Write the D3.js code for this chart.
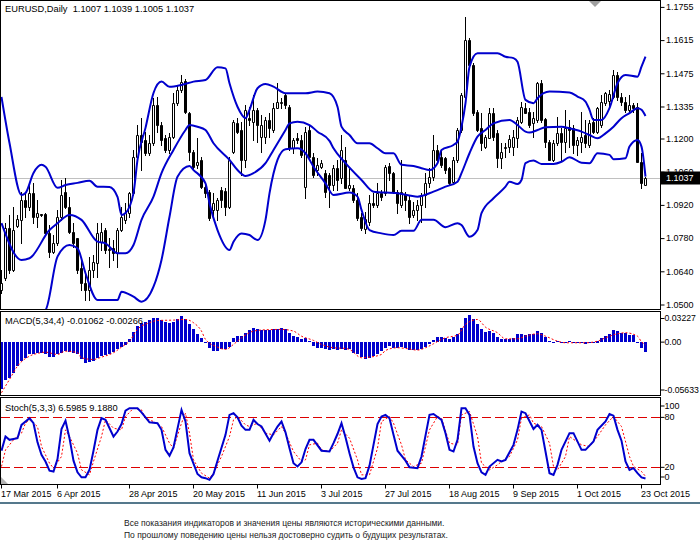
<!DOCTYPE html>
<html>
<head>
<meta charset="utf-8">
<script src="https://cdn.jsdelivr.net/npm/d3@7"></script>
<style>
  html, body { margin: 0; padding: 0; background: #fff; }
  svg { display: block; }
</style>
</head>
<body>
<div id="container"></div>
<script>
// ---------- data (EURUSD daily) ----------
const open = [
  1.0563,1.0613,1.0824,1.0648,1.0833,1.0859,1.0943,1.0915,1.0971,1.0870,
  1.0882,1.0884,1.0802,1.0725,1.0760,1.0872,1.0978,1.0915,1.0809,1.0781,
  1.0655,1.0594,1.0563,1.0648,1.0676,1.0767,1.0816,1.0732,1.0739,1.0718,
  1.0816,1.0859,1.0887,1.0971,1.1126,1.1217,1.1196,1.1140,1.1182,1.1344,
  1.1259,1.1203,1.1154,1.1210,1.1351,1.1407,1.1446,1.1309,1.1147,1.1090,
  1.1112,1.0999,1.0978,1.0901,1.0901,1.0985,1.0982,1.0915,1.1147,1.1266,
  1.1238,1.1112,1.1287,1.1273,1.1322,1.1210,1.1210,1.1280,1.1238,1.1330,
  1.1351,1.1386,1.1337,1.1161,1.1203,1.1196,1.0999,1.1238,1.1126,1.1069,
  1.1083,1.1055,1.1048,1.1006,1.1077,1.1034,1.1112,1.0992,1.0992,1.0943,
  1.0872,1.0822,1.0851,1.0932,1.0922,1.0974,1.0971,1.1086,1.1055,1.0978,
  1.0922,1.0968,1.0943,1.0880,1.0901,1.0922,1.0964,1.1013,1.1041,1.1154,
  1.1126,1.1119,1.1077,1.1020,1.1112,1.1238,1.1379,1.1618,1.1512,1.1315,
  1.1245,1.1168,1.1203,1.1309,1.1224,1.1119,1.1161,1.1168,1.1168,1.1203,
  1.1273,1.1330,1.1315,1.1266,1.1280,1.1435,1.1283,1.1189,1.1112,1.1182,
  1.1227,1.1189,1.1250,1.1245,1.1175,1.1189,1.1217,1.1175,1.1273,1.1231,
  1.1259,1.1351,1.1360,1.1379,1.1470,1.1379,1.1358,1.1322,1.1344,1.1337,
  1.1104,1.1007
];
const high = [
  1.0648,1.0845,1.0880,1.0915,1.0880,1.0978,1.0978,1.1013,1.1013,1.0943,
  1.0885,1.0887,1.0837,1.0795,1.0901,1.1027,1.1034,1.0957,1.0845,1.0781,
  1.0690,1.0634,1.0704,1.0711,1.0845,1.0845,1.0824,1.0781,1.0774,1.0824,
  1.0915,1.0929,1.0978,1.1154,1.1259,1.1287,1.1231,1.1217,1.1372,1.1379,
  1.1273,1.1217,1.1224,1.1393,1.1428,1.1470,1.1452,1.1315,1.1154,1.1203,
  1.1126,1.1013,1.0985,1.0971,1.0950,1.0999,1.0992,1.1126,1.1280,1.1287,
  1.1273,1.1344,1.1337,1.1386,1.1329,1.1301,1.1294,1.1309,1.1351,1.1435,
  1.1373,1.1393,1.1344,1.1203,1.1224,1.1217,1.1252,1.1259,1.1140,1.1120,
  1.1112,1.1069,1.1055,1.1090,1.1112,1.1217,1.1168,1.1083,1.1006,1.0971,
  1.0887,1.0894,1.0964,1.0971,1.1013,1.0985,1.1090,1.1098,1.1062,1.0985,
  1.1112,1.0978,1.0964,1.0936,1.0943,1.0971,1.1055,1.1077,1.1217,1.1175,
  1.1154,1.1126,1.1083,1.1126,1.1245,1.1393,1.1716,1.1625,1.1519,1.1322,
  1.1309,1.1217,1.1330,1.1330,1.1238,1.1182,1.1182,1.1217,1.1238,1.1294,
  1.1358,1.1351,1.1330,1.1315,1.1442,1.1449,1.1287,1.1196,1.1196,1.1291,
  1.1245,1.1322,1.1280,1.1259,1.1210,1.1315,1.1280,1.1280,1.1287,1.1337,
  1.1386,1.1400,1.1407,1.1491,1.1484,1.1393,1.1379,1.1386,1.1351,1.1351,
  1.1140,1.1039
];
const low = [
  1.0551,1.0605,1.0634,1.0645,1.0830,1.0760,1.0872,1.0901,1.0845,1.0830,
  1.0876,1.0795,1.0704,1.0718,1.0753,1.0859,1.0908,1.0802,1.0746,1.0634,
  1.0563,1.0521,1.0521,1.0619,1.0619,1.0732,1.0718,1.0662,1.0690,1.0662,
  1.0810,1.0845,1.0872,1.0965,1.1112,1.1069,1.1133,1.1133,1.1175,1.1231,
  1.1175,1.1147,1.1140,1.1203,1.1344,1.1400,1.1309,1.1112,1.1077,1.1077,
  1.0992,1.0957,1.0859,1.0872,1.0859,1.0915,1.0880,1.0908,1.1140,1.1224,
  1.1048,1.1083,1.1259,1.1196,1.1189,1.1147,1.1182,1.1210,1.1231,1.1330,
  1.1331,1.1330,1.1154,1.1140,1.1182,1.1126,1.0950,1.1112,1.1041,1.1048,
  1.1077,1.0957,1.0915,1.0985,1.0985,1.1013,1.0992,1.0985,1.0936,1.0859,
  1.0816,1.0802,1.0837,1.0915,1.0915,1.0943,1.0964,1.1027,1.0971,1.0887,
  1.0915,1.0901,1.0845,1.0872,1.0859,1.0851,1.0915,1.0999,1.1027,1.1098,
  1.1083,1.1055,1.1006,1.1013,1.1104,1.1231,1.1372,1.1505,1.1301,1.1235,
  1.1154,1.1161,1.1203,1.1196,1.1083,1.1077,1.1126,1.1147,1.1133,1.1168,
  1.1266,1.1309,1.1252,1.1210,1.1273,1.1273,1.1168,1.1112,1.1109,1.1175,
  1.1112,1.1147,1.1168,1.1140,1.1133,1.1147,1.1168,1.1168,1.1224,1.1224,
  1.1252,1.1344,1.1337,1.1372,1.1365,1.1344,1.1315,1.1315,1.1315,1.1104,
  1.0992,1.1005
];
const close = [
  1.0593,1.0824,1.0648,1.0816,1.0861,1.0943,1.0915,1.0971,1.0872,1.0887,
  1.0880,1.0802,1.0725,1.0760,1.0872,1.0964,1.0915,1.0809,1.0760,1.0648,
  1.0594,1.0563,1.0648,1.0683,1.0802,1.0809,1.0732,1.0735,1.0718,1.0816,
  1.0872,1.0887,1.0971,1.1126,1.1217,1.1189,1.1140,1.1182,1.1344,1.1259,
  1.1196,1.1154,1.1210,1.1351,1.1407,1.1442,1.1315,1.1147,1.1083,1.1104,
  1.0999,1.0971,1.0866,1.0929,1.0943,1.0943,1.0915,1.1112,1.1273,1.1231,
  1.1112,1.1322,1.1280,1.1322,1.1259,1.1259,1.1280,1.1245,1.1330,1.1358,
  1.1358,1.1344,1.1161,1.1196,1.1196,1.1133,1.1231,1.1126,1.1048,1.1090,
  1.1098,1.0978,1.1006,1.1077,1.1027,1.1154,1.0992,1.1006,1.0943,1.0866,
  1.0824,1.0864,1.0932,1.0922,1.0971,1.0957,1.1083,1.1055,1.0978,1.0929,
  1.0978,1.0943,1.0872,1.0901,1.0922,1.0964,1.1013,1.1041,1.1154,1.1112,
  1.1090,1.1069,1.1013,1.1112,1.1238,1.1386,1.1618,1.1512,1.1309,1.1238,
  1.1182,1.1210,1.1309,1.1210,1.1119,1.1147,1.1168,1.1199,1.1210,1.1280,
  1.1337,1.1311,1.1259,1.1287,1.1435,1.1280,1.1189,1.1112,1.1182,1.1227,
  1.1189,1.1245,1.1238,1.1175,1.1196,1.1210,1.1182,1.1266,1.1231,1.1330,
  1.1358,1.1393,1.1390,1.1470,1.1379,1.1358,1.1322,1.1344,1.1330,1.1104,
  1.1013,1.1037
];

// Bollinger bands, [bar, price] read at the turning points
const bbUpper = [
  [0,1.1377],[2,1.1183],[5,1.0964],[6,1.0972],[8,1.1057],[10,1.1091],[11,1.1083],[14,1.0994],
  [16,1.1006],[19,1.1015],[22,1.1024],[24,1.0999],[27,1.0998],[29,1.0956],[30,1.0880],[31,1.0888],
  [33,1.0972],[34,1.1112],[36,1.1247],[38,1.1394],[40,1.1442],[42,1.1420],[45,1.1428],[48,1.1442],
  [51,1.1449],[54,1.1503],[56,1.1498],[57,1.1435],[59,1.1336],[61,1.1288],[62,1.1323],[64,1.1414],
  [66,1.1432],[68,1.1421],[71,1.1393],[76,1.1393],[79,1.1400],[82,1.1393],[84,1.1336],[85,1.1252],
  [87,1.1217],[89,1.1182],[92,1.1182],[94,1.1161],[96,1.1140],[98,1.1140],[100,1.1091],[103,1.1086],
  [105,1.1077],[107,1.1069],[109,1.1098],[110,1.1154],[113,1.1175],[114,1.1189],[115,1.1252],[116,1.1351],
  [117,1.1505],[119,1.1562],[122,1.1562],[124,1.1562],[126,1.1547],[128,1.1541],[129,1.1526],[131,1.1365],
  [133,1.1351],[134,1.1372],[137,1.1400],[142,1.1396],[144,1.1379],[146,1.1358],[147,1.1323],[148,1.1280],
  [150,1.1280],[152,1.1330],[154,1.1435],[156,1.1470],[159,1.1463],[160,1.1505],[161,1.1547]
];
const bbMiddle = [
  [0,1.0845],[5,1.0690],[7,1.0697],[12,1.0816],[14,1.0845],[17,1.0880],[20,1.0859],[24,1.0767],
  [26,1.0760],[29,1.0718],[31,1.0718],[33,1.0753],[35,1.0859],[38,1.0957],[40,1.1056],[43,1.1154],
  [46,1.1238],[47,1.1259],[49,1.1252],[51,1.1238],[53,1.1182],[57,1.1112],[59,1.1069],[61,1.1044],
  [63,1.1056],[66,1.1098],[68,1.1154],[71,1.1238],[72,1.1266],[74,1.1273],[77,1.1259],[79,1.1231],
  [82,1.1192],[83,1.1161],[86,1.1098],[90,1.1027],[93,1.0978],[99,1.0971],[104,1.0957],[108,1.0978],
  [111,1.0999],[114,1.1020],[115,1.1056],[117,1.1140],[119,1.1210],[121,1.1238],[123,1.1266],[127,1.1280],
  [129,1.1259],[131,1.1231],[132,1.1227],[134,1.1238],[136,1.1250],[140,1.1252],[142,1.1245],[145,1.1231],
  [147,1.1217],[149,1.1203],[151,1.1224],[153,1.1252],[155,1.1288],[157,1.1309],[159,1.1330],[160,1.1323],
  [161,1.1297]
];
const bbLower = [
  [0,1.0313],[5,1.0416],[8,1.0460],[11,1.0479],[14,1.0704],[17,1.0753],[19,1.0739],[21,1.0634],
  [24,1.0521],[29,1.0521],[30,1.0556],[33,1.0535],[35,1.0514],[38,1.0577],[40,1.0690],[42,1.0872],
  [44,1.1041],[47,1.1086],[48,1.1069],[51,1.1013],[52,1.0929],[54,1.0816],[57,1.0732],[58,1.0767],
  [60,1.0802],[62,1.0795],[64,1.0774],[66,1.0859],[67,1.0971],[69,1.1112],[71,1.1157],[74,1.1161],
  [76,1.1140],[78,1.1083],[81,1.1013],[83,1.0964],[87,1.0974],[89,1.0957],[90,1.0901],[92,1.0816],
  [95,1.0802],[98,1.0795],[100,1.0813],[103,1.0813],[105,1.0859],[108,1.0859],[111,1.0828],[114,1.0845],
  [115,1.0837],[117,1.0788],[119,1.0816],[120,1.0887],[123,1.0950],[126,1.0999],[127,1.1020],[129,1.1010],
  [130,1.1027],[131,1.1098],[133,1.1109],[135,1.1095],[138,1.1095],[140,1.1104],[142,1.1123],[145,1.1100],
  [147,1.1098],[149,1.1140],[152,1.1133],[153,1.1115],[156,1.1119],[157,1.1168],[159,1.1196],[160,1.1168],
  [161,1.1041]
];

// MACD(5,34,4) histogram, one value per bar
const macdHist = [
  -0.0524,-0.0424,-0.0402,-0.0339,-0.0266,-0.0210,-0.0173,-0.0136,-0.0136,-0.0117,
  -0.0117,-0.0129,-0.0162,-0.0166,-0.0136,-0.0117,-0.0100,-0.0110,-0.0117,-0.0136,
  -0.0192,-0.0228,-0.0221,-0.0210,-0.0173,-0.0155,-0.0144,-0.0129,-0.0106,-0.0081,
  -0.0055,-0.0033,0.0037,0.0111,0.0177,0.0215,0.0226,0.0240,0.0262,0.0262,
  0.0240,0.0226,0.0207,0.0226,0.0251,0.0288,0.0251,0.0196,0.0141,0.0093,
  0.0048,0.0004,-0.0070,-0.0100,-0.0100,-0.0081,-0.0081,-0.0055,0.0048,0.0066,
  0.0066,0.0104,0.0130,0.0152,0.0141,0.0133,0.0133,0.0133,0.0141,0.0148,
  0.0152,0.0148,0.0104,0.0066,0.0055,0.0037,0.0048,0.0011,-0.0044,-0.0062,
  -0.0062,-0.0081,-0.0084,-0.0073,-0.0084,-0.0081,-0.0084,-0.0081,-0.0118,-0.0136,
  -0.0166,-0.0192,-0.0173,-0.0155,-0.0136,-0.0100,-0.0062,-0.0044,-0.0062,-0.0062,
  -0.0055,-0.0070,-0.0092,-0.0092,-0.0092,-0.0081,-0.0055,-0.0026,0.0026,0.0055,
  0.0059,0.0048,0.0037,0.0055,0.0085,0.0159,0.0262,0.0296,0.0251,0.0196,
  0.0141,0.0115,0.0122,0.0096,0.0055,0.0030,0.0030,0.0037,0.0048,0.0085,
  0.0093,0.0078,0.0085,0.0093,0.0122,0.0104,0.0059,0.0011,0.0004,0.0011,
  -0.0007,0.0004,0.0011,-0.0004,-0.0004,-0.0004,-0.0018,-0.0004,0.0004,0.0018,
  0.0048,0.0066,0.0085,0.0130,0.0122,0.0104,0.0104,0.0078,0.0078,-0.0007,
  -0.0070,-0.01062
];
const macdSignal = [
  [0,-0.0560],[2,-0.0413],[4,-0.0266],[7,-0.0155],[9,-0.0125],[11,-0.0111],[14,-0.0136],[16,-0.0100],
  [19,-0.0117],[20,-0.0173],[23,-0.0192],[25,-0.0166],[28,-0.0117],[30,-0.0055],[32,0.0011],[34,0.0141],
  [37,0.0215],[39,0.0240],[43,0.0244],[46,0.0251],[48,0.0215],[50,0.0122],[51,0.0030],[54,-0.0055],
  [56,-0.0081],[58,-0.0025],[60,0.0048],[63,0.0122],[66,0.0137],[70,0.0141],[73,0.0122],[75,0.0066],
  [78,0.0019],[80,-0.0025],[83,-0.0062],[86,-0.0070],[87,-0.0081],[90,-0.0173],[92,-0.0166],[95,-0.0136],
  [96,-0.0092],[99,-0.0062],[101,-0.0070],[104,-0.0088],[106,-0.0062],[108,-0.0018],[110,0.0030],[111,0.0048],
  [114,0.0078],[116,0.0196],[119,0.0251],[121,0.0166],[124,0.0104],[126,0.0037],[129,0.0037],[131,0.0066],
  [134,0.0093],[136,0.0066],[139,0.0011],[141,-0.0007],[146,-0.0007],[149,0.0011],[151,0.0048],[154,0.0093],
  [156,0.0104],[159,0.0066],[160,0.0004],[161,-0.00266]
];

// Stochastic(5,3,3), [bar, value]
const stochMain = [
  [0,40],[1,57],[2,53],[4,55],[5,71],[7,79],[8,73],[9,50],[10,35],[11,27],[12,16],[13,15],
  [14,30],[15,66],[16,76],[17,55],[18,28],[19,14],[20,8],[21,8],[22,17],[23,40],[24,65],[25,79],
  [26,77],[28,57],[29,63],[30,72],[31,88],[32,91],[34,91],[35,86],[37,74],[39,73],[40,65],[41,41],
  [42,34],[43,44],[45,89],[46,75],[47,37],[49,12],[50,8],[51,7],[52,5],[53,12],[54,28],[56,59],
  [57,83],[58,85],[59,80],[60,70],[61,65],[62,65],[63,77],[64,72],[65,69],[67,52],[68,61],[69,69],
  [70,75],[71,62],[72,43],[73,25],[74,21],[75,26],[76,42],[77,53],[78,53],[80,40],[82,39],[83,49],
  [84,60],[85,73],[86,56],[87,37],[88,20],[89,8],[90,6],[91,7],[92,22],[93,47],[94,72],[95,81],
  [96,83],[97,79],[98,59],[99,40],[101,28],[102,20],[104,19],[105,33],[107,83],[108,84],[110,77],
  [111,61],[112,41],[113,39],[114,53],[115,91],[116,91],[117,83],[118,45],[119,25],[120,14],[121,11],
  [122,21],[124,29],[125,27],[126,29],[128,47],[129,65],[130,87],[131,85],[133,66],[134,71],[135,65],
  [136,39],[137,13],[138,11],[139,23],[140,41],[142,61],[143,61],[145,41],[146,41],[148,51],[149,65],
  [151,75],[152,84],[153,82],[154,65],[155,52],[156,27],[157,17],[158,19],[159,13],[160,8],[161,6.5985]
];
const stochSignal = [
  [0,21],[1,41],[3,53],[5,61],[6,73],[7,77],[9,69],[10,45],[12,25],[13,19],[15,33],[16,65],
  [17,57],[19,37],[20,17],[22,11],[23,27],[25,57],[26,77],[28,67],[30,65],[31,81],[33,91],[35,89],
  [36,79],[38,75],[40,69],[42,49],[43,43],[45,73],[46,85],[47,61],[48,29],[50,13],[52,7],[53,13],
  [55,33],[57,57],[58,77],[59,81],[61,71],[62,69],[64,73],[66,61],[68,59],[70,69],[71,61],[73,39],
  [75,27],[76,29],[77,47],[79,49],[80,41],[82,39],[84,49],[85,65],[87,55],[89,29],[90,11],[92,11],
  [94,43],[95,75],[97,81],[98,73],[100,47],[101,29],[103,21],[105,25],[107,65],[109,81],[110,79],
  [112,49],[114,47],[115,83],[117,87],[119,57],[120,25],[122,17],[124,23],[125,27],[127,33],[129,53],
  [130,79],[132,83],[133,73],[135,69],[137,49],[138,21],[139,17],[141,33],[142,57],[145,47],[147,45],
  [149,57],[151,71],[153,81],[155,69],[157,33],[158,21],[160,15],[161,9.188]
];

// axis labels
const priceTicks = [1.1755, 1.1615, 1.1475, 1.1335, 1.1200, 1.1060, 1.0920, 1.0780, 1.0640, 1.0500];
const macdTicks = [0.03227, 0, -0.05633];
const macdTickLabels = ["0.03227", "0.00", "-0.05633"];
const stochTicks = [100, 80, 20, 0];
const stochLevels = [80, 20];
const dateTicks = [0, 14, 32, 48, 64, 80, 96, 112, 128, 144, 160];
const dateLabels = ["17 Mar 2015", "6 Apr 2015", "28 Apr 2015", "20 May 2015", "11 Jun 2015",
  "3 Jul 2015", "27 Jul 2015", "18 Aug 2015", "9 Sep 2015", "1 Oct 2015", "23 Oct 2015"];
const footer = [
  "Все показания индикаторов и значения цены являются историческими данными.",
  "По прошлому поведению цены нельзя достоверно судить о будущих результатах."
];

// ---------- layout ----------
const FONT = "'Liberation Sans', Arial, sans-serif";
const BLUE = "#0000cd";
const RED = "#ff0000";
const right = 660.5;
const mainTop = 0.5, mainBot = 309.5;
const macdTop = 311.5, macdBot = 395.5;
const stochTop = 397.5, stochBot = 484.5;
const n = close.length;
const last = n - 1;

let viz = d3.select("#container")
  .append("svg")
    .attr("width", 700)
    .attr("height", 552)
    .attr("font-family", FONT)
;

let x = d3.scaleLinear().domain([0, last]).range([1.5, 645.5]);
let yPrice = d3.scaleLinear().domain([1.05, 1.1755]).range([305, 7.4]);
let yMacd = d3.scaleLinear().domain([-0.05633, 0.03227]).range([393, 313]);
let yStoch = d3.scaleLinear().domain([0, 100]).range([484, 400.7]);

// clip paths for the three panes
let defs = viz.append("defs");
[["clipMain", mainTop, mainBot], ["clipMacd", macdTop, macdBot], ["clipStoch", stochTop, stochBot]]
  .forEach(function (c) {
    defs.append("clipPath").attr("id", c[0])
      .append("rect")
        .attr("x", 1).attr("y", c[1] + 0.5)
        .attr("width", right - 1.5).attr("height", c[2] - c[1] - 1);
  });

// ---------- main pane ----------
let main = viz.append("g").attr("clip-path", "url(#clipMain)");

// bid line
main.append("line")
    .attr("x1", 0).attr("x2", right)
    .attr("y1", Math.round(yPrice(close[last])) + 0.5)
    .attr("y2", Math.round(yPrice(close[last])) + 0.5)
    .attr("stroke", "#c0c0c0")
;

// candle wicks
main.selectAll(".wick")
  .data(d3.range(n))
  .join("line")
    .attr("x1", i => x(i)).attr("x2", i => x(i))
    .attr("y1", i => Math.round(yPrice(high[i])))
    .attr("y2", i => Math.round(yPrice(low[i])) + 1)
    .attr("stroke", "black")
;

// candle bodies
main.selectAll(".body")
  .data(d3.range(n))
  .join("path")
    .attr("d", function (i) {
      let t = Math.round(yPrice(Math.max(open[i], close[i]))) + 0.5;
      let b = Math.round(yPrice(Math.min(open[i], close[i]))) + 0.5;
      return "M" + (x(i) - 1) + "," + t + "H" + (x(i) + 1) + "V" + b + "H" + (x(i) - 1) + "Z";
    })
    .attr("fill", i => close[i] >= open[i] ? "white" : "black")
    .attr("stroke", "black")
;

// bollinger bands
let bandLine = d3.line()
  .x(d => x(d[0]))
  .y(d => yPrice(d[1]))
  .curve(d3.curveMonotoneX);

[bbUpper, bbMiddle, bbLower].forEach(function (band) {
  main.append("path")
      .attr("d", bandLine(band))
      .attr("fill", "none")
      .attr("stroke", BLUE)
      .attr("stroke-width", 2)
  ;
});

// header
viz.append("text")
    .text("EURUSD,Daily  " + [open[last], high[last], low[last], close[last]].map(v => v.toFixed(4)).join(" "))
    .attr("x", 5).attr("y", 12)
    .attr("font-size", 9.3)
    .style("white-space", "pre")
;

// shift marker
viz.append("polygon")
    .attr("points", "589,1 601,1 595,7")
    .attr("fill", "#a0a0a0")
;

// ---------- MACD pane ----------
let macd = viz.append("g").attr("clip-path", "url(#clipMacd)");

macd.selectAll(".bar")
  .data(macdHist)
  .join("rect")
    .attr("x", (d, i) => x(i) - 1.5)
    .attr("width", 3)
    .attr("y", d => Math.round(Math.min(yMacd(0), yMacd(d))))
    .attr("height", d => Math.max(1, Math.round(Math.abs(yMacd(d) - yMacd(0)))))
    .attr("fill", BLUE)
;

macd.append("path")
    .attr("d", d3.line().x(d => x(d[0])).y(d => yMacd(d[1])).curve(d3.curveMonotoneX)(macdSignal))
    .attr("fill", "none")
    .attr("stroke", RED)
    .attr("stroke-dasharray", "2,2")
;

viz.append("text")
    .text("MACD(5,34,4) " + macdHist[last].toFixed(5) + " " + macdSignal[macdSignal.length - 1][1].toFixed(5))
    .attr("x", 5).attr("y", 323.5)
    .attr("font-size", 9.3)
;

// ---------- Stochastic pane ----------
let stoch = viz.append("g").attr("clip-path", "url(#clipStoch)");

stoch.selectAll(".level")
  .data(stochLevels)
  .join("line")
    .attr("x1", 1).attr("x2", right)
    .attr("y1", d => Math.round(yStoch(d)) + 0.5)
    .attr("y2", d => Math.round(yStoch(d)) + 0.5)
    .attr("stroke", "#dd0000")
    .attr("stroke-dasharray", "9,4")
;

stoch.append("path")
    .attr("d", d3.line().x(d => x(d[0])).y(d => yStoch(d[1]))(stochSignal))
    .attr("fill", "none")
    .attr("stroke", RED)
    .attr("stroke-dasharray", "2,2")
;

stoch.append("path")
    .attr("d", d3.line().x(d => x(d[0])).y(d => yStoch(d[1]))(stochMain))
    .attr("fill", "none")
    .attr("stroke", BLUE)
    .attr("stroke-width", 2)
;

viz.append("text")
    .text("Stoch(5,3,3) " + stochMain[stochMain.length - 1][1].toFixed(4) + " " + stochSignal[stochSignal.length - 1][1].toFixed(4))
    .attr("x", 5).attr("y", 411)
    .attr("font-size", 9.3)
;

viz.append("polygon")
    .attr("points", "1,477 1,484 8,484")
    .attr("fill", "#b4b4b4")
;

// ---------- pane frames ----------
[[mainTop, mainBot], [macdTop, macdBot], [stochTop, stochBot]].forEach(function (p) {
  viz.append("rect")
      .attr("x", 0.5).attr("y", p[0])
      .attr("width", right - 0.5).attr("height", p[1] - p[0])
      .attr("fill", "none")
      .attr("stroke", "black")
  ;
});

// ---------- axes ----------
function styleAxis(g) {
  g.attr("font-family", FONT).attr("font-size", 9);
  g.select(".domain").remove();
  g.selectAll("text").attr("fill", "black");
  g.selectAll("line").attr("stroke", "black");
}

viz.append("g")
    .attr("transform", "translate(" + right + ",0)")
    .call(d3.axisRight(yPrice).tickValues(priceTicks).tickFormat(d3.format(".4f"))
      .tickSize(4).tickPadding(1.5).offset(0))
    .call(styleAxis)
;

// MT4 keeps the extreme labels inside the pane
viz.append("g")
    .attr("transform", "translate(" + right + ",0)")
    .call(d3.axisRight(yMacd).tickValues(macdTicks).tickFormat((d, i) => macdTickLabels[i])
      .tickSize(4).tickPadding(0).offset(0))
    .call(styleAxis)
    .attr("font-size", 8.7)
    .call(g => g.selectAll(".tick")
      .attr("transform", d => "translate(0," + Math.min(Math.max(yMacd(d), macdTop + 7), macdBot - 5.5) + ")"))
;

viz.append("g")
    .attr("transform", "translate(" + right + ",0)")
    .call(d3.axisRight(yStoch).tickValues(stochTicks)
      .tickSize(4).tickPadding(0).offset(0))
    .call(styleAxis)
    .call(g => g.selectAll(".tick")
      .attr("transform", d => "translate(0," + Math.min(Math.max(yStoch(d), stochTop + 8.5), stochBot - 7.5) + ")"))
;

// bid price box
viz.append("rect")
    .attr("x", 661).attr("y", Math.round(yPrice(close[last])) - 6.5)
    .attr("width", 39).attr("height", 13)
    .attr("fill", "black")
;
viz.append("text")
    .text(close[last].toFixed(4))
    .attr("x", 666).attr("y", yPrice(close[last]) + 3.3)
    .attr("font-size", 9)
    .attr("fill", "white")
;

// date axis
viz.append("g")
    .attr("transform", "translate(0," + stochBot + ")")
    .call(d3.axisBottom(x).tickValues(dateTicks).tickFormat((d, i) => dateLabels[i])
      .tickSize(4).tickPadding(2).offset(0))
    .call(styleAxis)
    .call(g => g.selectAll("text").attr("text-anchor", "start").attr("dx", -0.5))
;

// ---------- footer ----------
viz.append("line")
    .attr("x1", 0).attr("x2", 700)
    .attr("y1", 503).attr("y2", 503)
    .attr("stroke", "#1d4b66")
    .attr("stroke-width", 1.5)
;

viz.selectAll(".foot")
  .data(footer)
  .join("text")
    .text(d => d)
    .attr("x", 124)
    .attr("y", (d, i) => 526 + i * 12)
    .attr("font-size", 8.5)
    .attr("fill", "#1a1a1a")
;
</script>
</body>
</html>
